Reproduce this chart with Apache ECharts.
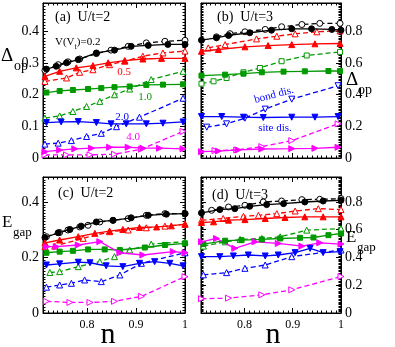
<!DOCTYPE html>
<html>
<head>
<meta charset="utf-8">
<script src="https://cdn.jsdelivr.net/npm/echarts@6/dist/echarts.min.js"></script>
<style>
  html, body { margin: 0; padding: 0; background: #fff; }
  #chart { width: 395px; height: 347px; }
</style>
</head>
<body>
<div id="chart"></div>
<script>
// curves are ordered V(Vt) = 0.2, 0.5, 1.0, 2.0, 4.0
const vNames = ['0.2', '0.5', '1.0', '2.0', '4.0'];

// (a) U/t=2, Delta_op
const aSite = [
  [[0.717,0.281],[0.737,0.290],[0.758,0.301],[0.782,0.311],[0.819,0.332],[0.856,0.341],[0.890,0.353],[0.925,0.356],[0.965,0.359],[1.0,0.359]],
  [[0.714,0.258],[0.744,0.274],[0.778,0.285],[0.812,0.292],[0.843,0.301],[0.877,0.308],[0.914,0.313],[0.952,0.315],[1.0,0.315]],
  [[0.717,0.207],[0.744,0.212],[0.771,0.215],[0.802,0.218],[0.829,0.221],[0.856,0.224],[0.887,0.226],[0.921,0.231],[0.955,0.232],[0.996,0.233]],
  [[0.717,0.112],[0.747,0.114],[0.782,0.115],[0.819,0.112],[0.849,0.108],[0.880,0.108],[0.921,0.108],[0.955,0.110],[0.996,0.114]],
  [[0.714,0.020],[0.744,0.025],[0.775,0.029],[0.809,0.031],[0.846,0.034],[0.884,0.034],[0.914,0.031],[0.948,0.031],[0.996,0.029]]
];
const aBond = [
  [[0.714,0.277],[0.741,0.295],[0.761,0.304],[0.785,0.313],[0.819,0.330],[0.849,0.341],[0.884,0.353],[0.921,0.364],[0.959,0.369],[1.0,0.372]],
  [[0.714,0.242],[0.758,0.253],[0.785,0.271],[0.812,0.279],[0.846,0.295],[0.877,0.306],[0.914,0.322],[0.955,0.332],[1.0,0.338]],
  [[0.714,0.126],[0.744,0.133],[0.771,0.147],[0.799,0.163],[0.826,0.179],[0.856,0.200],[0.887,0.218],[0.931,0.248],[0.996,0.274]],
  [[0.714,0.044],[0.741,0.047],[0.768,0.055],[0.799,0.068],[0.829,0.078],[0.860,0.099],[0.907,0.129],[0.996,0.189]],
  [[0.714,0.010],[0.758,0.010],[0.806,0.010],[0.856,0.012],[0.911,0.028],[0.996,0.084]]
];

// (b) U/t=3, Delta_op
const bSite = [
  [[0.711,0.745],[0.742,0.760],[0.767,0.775],[0.811,0.792],[0.856,0.808],[0.898,0.817],[0.939,0.817],[0.981,0.813],[1.0,0.808]],
  [[0.711,0.675],[0.746,0.686],[0.801,0.703],[0.849,0.711],[0.898,0.717],[0.946,0.722],[0.998,0.724]],
  [[0.711,0.521],[0.760,0.527],[0.798,0.533],[0.836,0.542],[0.881,0.546],[0.925,0.548],[0.974,0.550],[0.998,0.550]],
  [[0.711,0.262],[0.753,0.262],[0.798,0.258],[0.839,0.256],[0.898,0.258],[0.946,0.258],[0.994,0.262]],
  [[0.711,0.040],[0.746,0.044],[0.787,0.051],[0.836,0.057],[0.898,0.059],[0.946,0.061],[0.994,0.068]]
];
const bBond = [
  [[0.742,0.766],[0.770,0.786],[0.801,0.798],[0.843,0.813],[0.877,0.830],[0.919,0.844],[0.956,0.851],[0.998,0.851]],
  [[0.725,0.696],[0.760,0.717],[0.825,0.753],[0.867,0.770],[0.905,0.785],[0.950,0.798],[0.998,0.804]],
  [[0.711,0.470],[0.736,0.485],[0.763,0.506],[0.798,0.542],[0.832,0.569],[0.877,0.612],[0.929,0.648],[0.998,0.671]],
  [[0.722,0.195],[0.763,0.216],[0.801,0.252],[0.843,0.309],[0.898,0.372],[0.994,0.457]],
  [[0.739,0.047],[0.784,0.051],[0.836,0.072],[0.898,0.110],[0.994,0.216]]
];

// (c) U/t=2, E_gap
const cSite = [
  [[0.714,0.272],[0.741,0.289],[0.765,0.301],[0.788,0.313],[0.819,0.328],[0.853,0.334],[0.890,0.343],[0.925,0.352],[0.962,0.356],[1.0,0.358]],
  [[0.714,0.253],[0.744,0.263],[0.782,0.275],[0.816,0.287],[0.846,0.295],[0.873,0.301],[0.907,0.308],[0.942,0.310],[0.972,0.314],[1.0,0.320]],
  [[0.717,0.217],[0.744,0.221],[0.771,0.224],[0.802,0.229],[0.836,0.229],[0.867,0.227],[0.918,0.236],[0.959,0.245],[1.0,0.251]],
  [[0.717,0.173],[0.744,0.177],[0.782,0.183],[0.806,0.181],[0.839,0.170],[0.873,0.167],[0.907,0.179],[0.938,0.185],[0.969,0.179],[0.996,0.170]],
  [[0.717,0.239],[0.737,0.239],[0.782,0.245],[0.826,0.257],[0.867,0.217],[0.914,0.209],[0.976,0.221],[1.0,0.217]]
];
const cBond = [
  [[0.717,0.275],[0.744,0.290],[0.761,0.299],[0.785,0.310],[0.802,0.316],[0.826,0.328],[0.853,0.334],[0.884,0.340],[0.921,0.352],[0.959,0.358],[1.0,0.358]],
  [[0.714,0.239],[0.734,0.241],[0.792,0.269],[0.846,0.293],[0.884,0.299],[0.921,0.307],[0.959,0.313],[1.0,0.320]],
  [[0.724,0.146],[0.744,0.149],[0.782,0.167],[0.826,0.185],[0.856,0.203],[0.887,0.227],[0.931,0.248],[1.0,0.257]],
  [[0.717,0.093],[0.744,0.101],[0.768,0.107],[0.795,0.119],[0.829,0.113],[0.867,0.137],[0.911,0.179],[1.0,0.217]],
  [[0.717,0.042],[0.765,0.038],[0.806,0.038],[0.856,0.042],[0.911,0.060],[1.0,0.131]]
];

// (d) U/t=3, E_gap
const dSite = [
  [[0.711,0.721],[0.749,0.745],[0.780,0.752],[0.811,0.769],[0.846,0.781],[0.881,0.788],[0.925,0.800],[0.963,0.807],[1.0,0.812]],
  [[0.711,0.652],[0.736,0.657],[0.767,0.669],[0.801,0.673],[0.843,0.681],[0.884,0.688],[0.925,0.693],[0.963,0.693],[1.0,0.693]],
  [[0.715,0.497],[0.760,0.521],[0.794,0.525],[0.836,0.530],[0.874,0.537],[0.915,0.542],[0.943,0.544],[0.974,0.561],[1.0,0.573]],
  [[0.711,0.406],[0.749,0.406],[0.777,0.411],[0.808,0.418],[0.843,0.411],[0.870,0.418],[0.905,0.435],[0.936,0.466],[0.963,0.435],[0.998,0.442]],
  [[0.711,0.513],[0.742,0.537],[0.780,0.466],[0.822,0.513],[0.870,0.501],[0.919,0.482],[0.956,0.506],[1.0,0.497]]
];
const dBond = [
  [[0.732,0.740],[0.767,0.764],[0.801,0.776],[0.839,0.800],[0.877,0.807],[0.919,0.817],[0.956,0.819],[1.0,0.824]],
  [[0.711,0.669],[0.756,0.681],[0.798,0.697],[0.829,0.704],[0.867,0.716],[0.905,0.735],[0.953,0.752],[1.0,0.745]],
  [[0.715,0.482],[0.760,0.513],[0.791,0.530],[0.836,0.537],[0.874,0.549],[0.929,0.597],[1.0,0.609]],
  [[0.715,0.275],[0.763,0.291],[0.801,0.322],[0.843,0.346],[0.898,0.406],[1.0,0.454]],
  [[0.711,0.103],[0.767,0.107],[0.836,0.131],[0.898,0.167],[1.0,0.263]]
];

const FONT = '"Liberation Serif", "Times New Roman", serif';
const colors = ['#000000', '#ff0000', '#009a00', '#0000ff', '#ff00ff'];
// [symbol, rotate] per curve: filled = site dis., open = bond dis.
const siteSym = [['circle', 0], ['triangle', 0], ['rect', 0], ['triangle', 180], ['triangle', -90]];
const bondSym = [
  [['circle', 0], ['triangle', 0], ['triangle', 0], ['triangle', 0], ['triangle', -90]],
  [['circle', 0], ['triangle', 0], ['rect', 0], ['triangle', 180], ['triangle', -90]],
  [['circle', 0], ['triangle', 0], ['triangle', 0], ['triangle', 0], ['triangle', -90]],
  [['circle', 0], ['triangle', 0], ['triangle', 0], ['triangle', 0], ['triangle', -90]]
];

function curve(g, data, c, sym, filled) {
  return {
    type: 'line', xAxisIndex: 2 * g, yAxisIndex: 2 * g, data: data,
    symbol: sym[0], symbolRotate: sym[1], symbolSize: sym[0] === 'rect' ? 5 : 6,
    showSymbol: true, showAllSymbol: true, silent: true, animation: false,
    lineStyle: { color: c, width: 1.3, type: filled ? 'solid' : [5, 3] },
    itemStyle: { color: filled ? c : '#fff', borderColor: c, borderWidth: 1 },
    z: filled ? 3 : 2
  };
}

const grids = [
  { left: 43, top: 3, width: 142, height: 155 },
  { left: 201, top: 3, width: 140, height: 155 },
  { left: 43, top: 177, width: 142, height: 136 },
  { left: 201, top: 177, width: 140, height: 136 }
];

const tick = { show: true, inside: true, length: 5, lineStyle: { color: '#000', width: 1 } };
const line = { show: true, onZero: false, lineStyle: { color: '#000', width: 1 } };

function xAxes(g, labels) {
  const base = {
    type: 'value', gridIndex: g, min: 0.71, max: 1, splitNumber: 3, minInterval: 0.1, maxInterval: 0.1,
    axisLine: line, axisTick: tick, splitLine: { show: false },
    minorTick: { show: true, splitNumber: 10, length: 2.5, lineStyle: { color: '#000', width: 1 } }
  };
  return [
    Object.assign({}, base, { position: 'bottom', axisLabel: {
      show: labels, showMinLabel: false, margin: 6, color: '#000', fontFamily: FONT, fontSize: 12,
      formatter: v => (v === 1 ? '1' : v.toFixed(1)) } }),
    Object.assign({}, base, { position: 'top', axisLabel: { show: false } })
  ];
}

function yAxes(g, max, interval, minorSplit, side) {
  const base = {
    type: 'value', gridIndex: g, min: 0, max: max, interval: interval,
    axisLine: line, axisTick: tick, splitLine: { show: false },
    minorTick: { show: true, splitNumber: minorSplit, length: 2.5, lineStyle: { color: '#000', width: 1 } }
  };
  const lab = {
    show: true, showMaxLabel: false, margin: 4, color: '#000', fontFamily: FONT, fontSize: 14,
    formatter: v => (v === 0 ? '0' : v.toFixed(1))
  };
  return [
    Object.assign({}, base, { position: 'left', axisLabel: side === 'left' ? lab : { show: false } }),
    Object.assign({}, base, { position: 'right', axisLabel: side === 'right' ? lab : { show: false } })
  ];
}

const panels = [[aSite, aBond], [bSite, bBond], [cSite, cBond], [dSite, dBond]];
const series = [];
panels.forEach((p, g) => {
  for (let i = 0; i < vNames.length; i++) {
    series.push(curve(g, p[1][i], colors[i], bondSym[g][i], false));
    series.push(curve(g, p[0][i], colors[i], siteSym[i], true));
  }
});

function txt(x, y, text, size, color, align) {
  return {
    type: 'text', x: x, y: y, silent: true, z: 10,
    style: { text: text, fill: color || '#000', font: size + 'px ' + FONT,
      align: align || 'left', verticalAlign: 'middle' }
  };
}

const graphics = [
  txt(55, 17, '(a)  U/t=2', 14),
  txt(217, 17, '(b)  U/t=3', 14),
  txt(58, 193, '(c)  U/t=2', 14),
  txt(212, 195, '(d)  U/t=3', 14),
  // axis titles
  txt(1, 56, 'Δ', 19), txt(14, 66, 'op', 14),
  txt(346, 80, 'Δ', 19), txt(358, 90, 'op', 14),
  txt(2, 223, 'E', 17), txt(13, 233, 'gap', 13),
  txt(346, 238, 'E', 17), txt(357, 248, 'gap', 13),
  txt(108, 335, 'n', 30, '#000', 'center'),
  txt(273, 335, 'n', 30, '#000', 'center'),
  // curve labels in (a)
  {
    type: 'text', x: 55, y: 44, silent: true, z: 10,
    style: {
      text: '{n|V(V}{s|t}{n|)=0.2}', verticalAlign: 'middle',
      rich: {
        n: { fontFamily: FONT, fontSize: 11, lineHeight: 14, fill: '#000', verticalAlign: 'top' },
        s: { fontFamily: FONT, fontSize: 8, lineHeight: 8, fill: '#000', verticalAlign: 'bottom' }
      }
    }
  },
  txt(124, 72, vNames[1], 11, colors[1], 'center'),
  txt(145, 97, vNames[2], 11, colors[2], 'center'),
  txt(122, 117, vNames[3], 11, colors[3], 'center'),
  txt(133, 137, vNames[4], 11, colors[4], 'center'),
  // (b) annotations
  {
    type: 'text', x: 274, y: 95, rotation: 15 * Math.PI / 180, silent: true, z: 10,
    style: { text: 'bond dis.', fill: '#0000ff', font: '11px ' + FONT, align: 'center', verticalAlign: 'middle' }
  },
  txt(275, 128, 'site dis.', 11, '#0000ff', 'center')
];

const chart = echarts.init(document.getElementById('chart'), null, { renderer: 'canvas' });
chart.setOption({
  animation: false,
  backgroundColor: '#fff',
  grid: grids.map(g => Object.assign({ show: true, borderColor: '#000', borderWidth: 1, backgroundColor: 'transparent' }, g)),
  xAxis: [].concat(xAxes(0, false), xAxes(1, false), xAxes(2, true), xAxes(3, true)),
  yAxis: [].concat(yAxes(0, 0.49, 0.1, 10, 'left'), yAxes(1, 0.98, 0.2, 20, 'right'),
                   yAxes(2, 0.49, 0.2, 20, 'left'), yAxes(3, 0.98, 0.2, 20, 'right')),
  series: series,
  graphic: graphics
});
</script>
</body>
</html>
